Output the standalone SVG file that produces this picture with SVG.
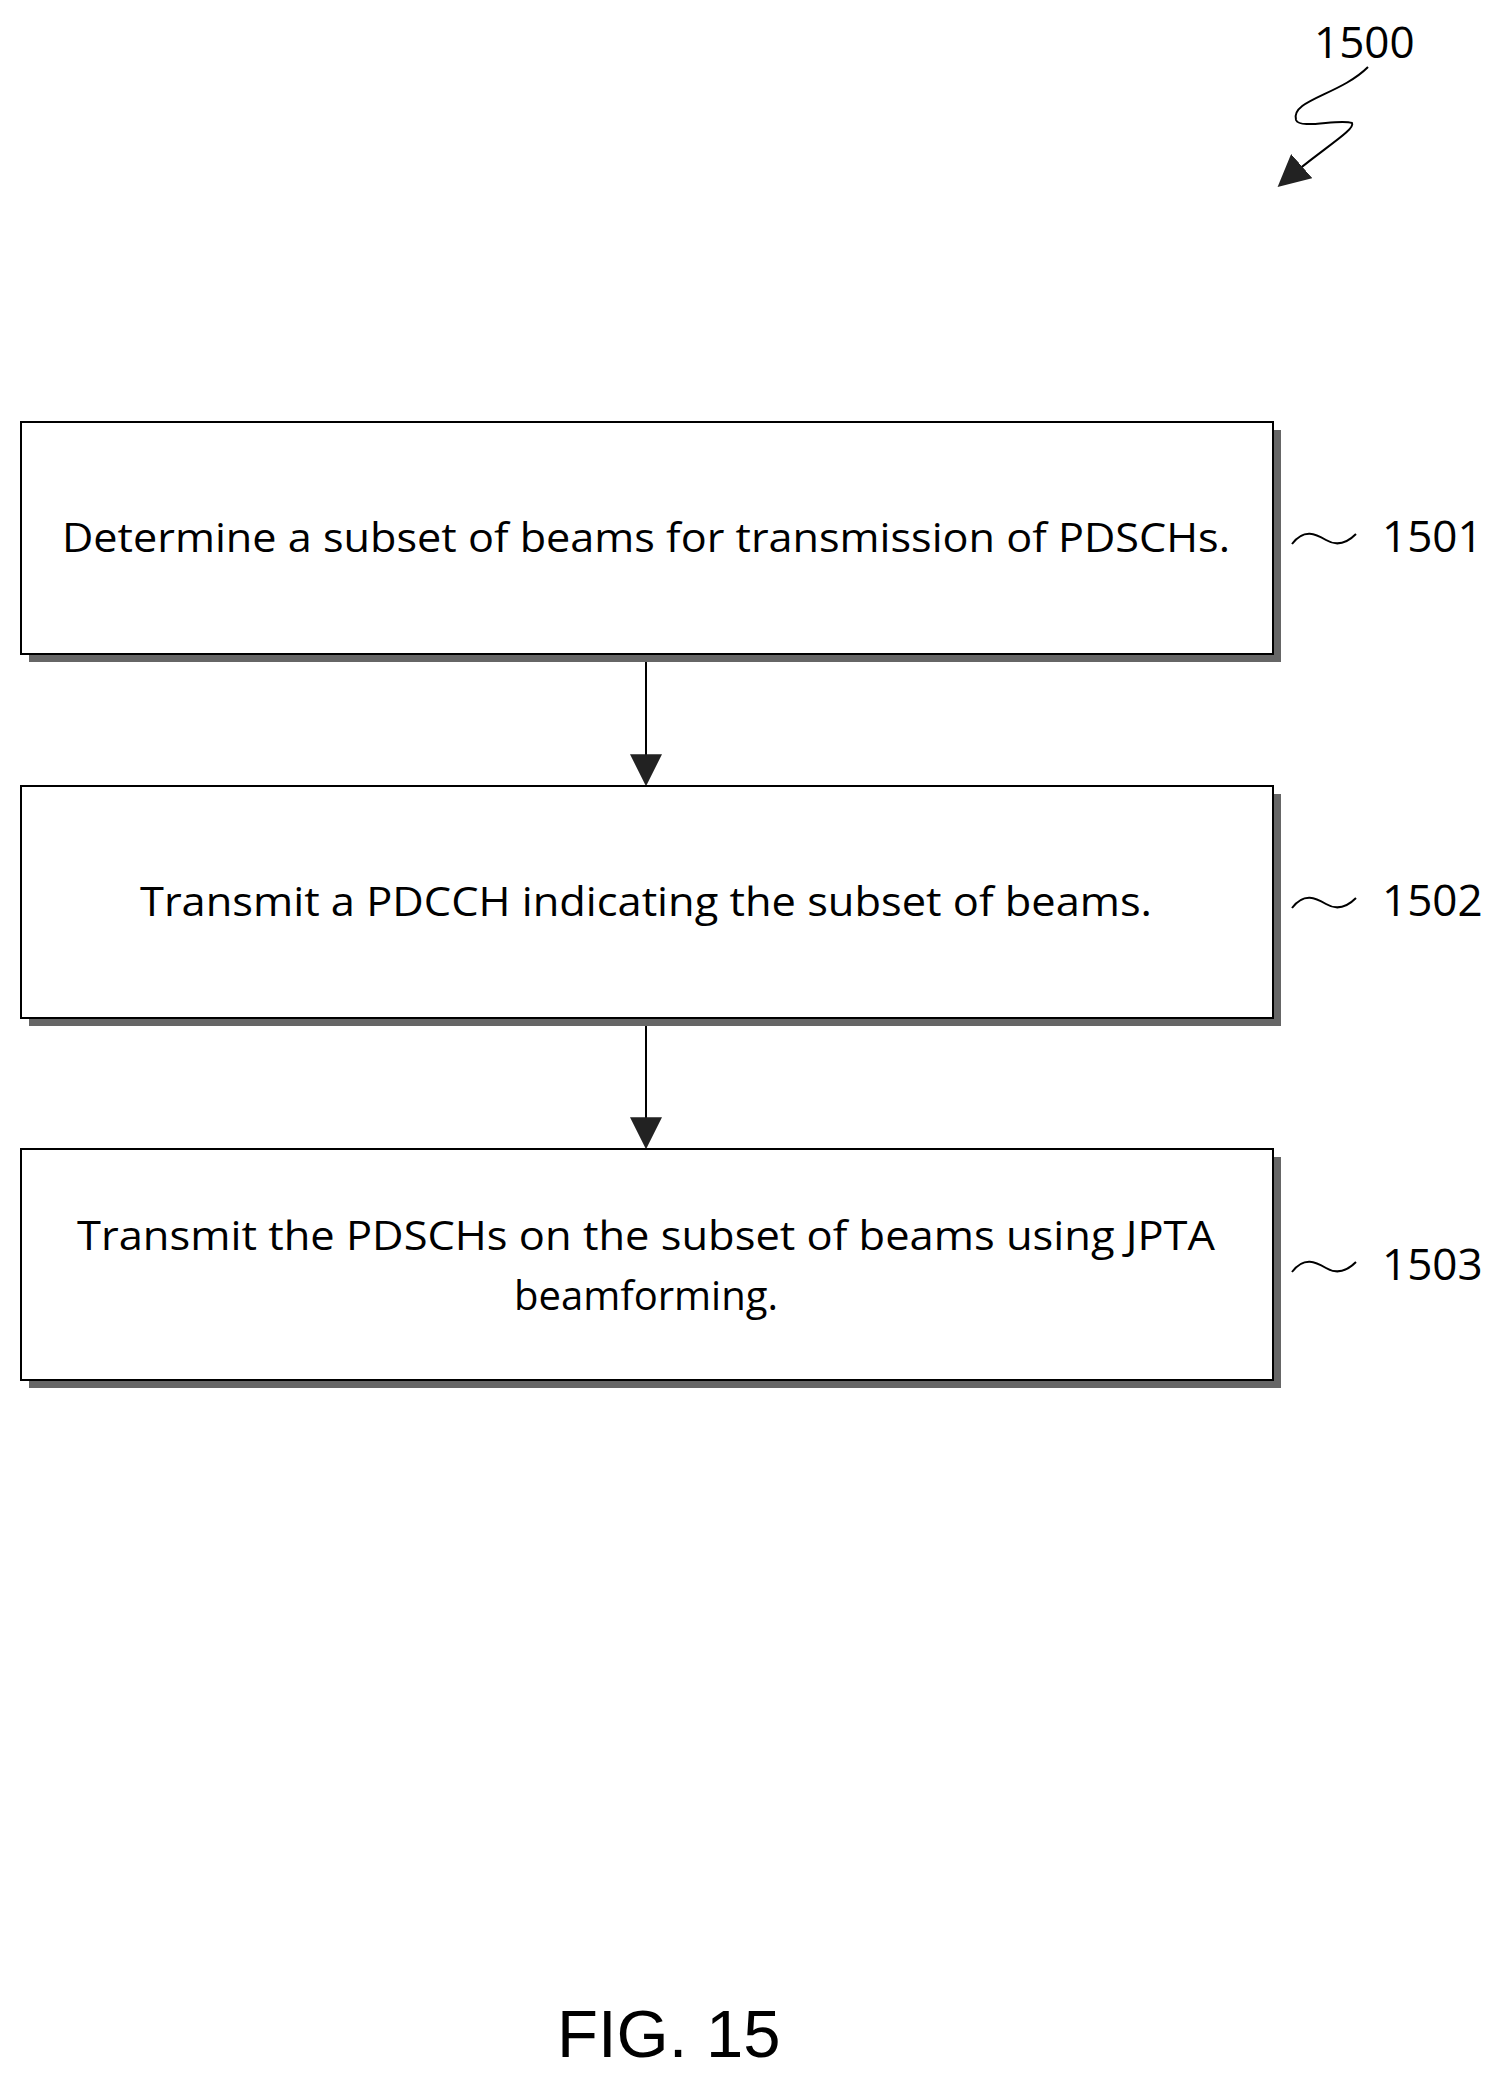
<svg xmlns="http://www.w3.org/2000/svg" width="1499" height="2078" viewBox="0 0 1499 2078">
<style>
.box{fill:#fff;stroke:#000;stroke-width:2}
.sh{fill:#666}
.t{font-family:"Open Sans","Liberation Sans",sans-serif;font-size:40px;text-anchor:middle;fill:#000}
.lb{font-family:"Open Sans","Liberation Sans",sans-serif;font-size:44px;fill:#000}
.ln{fill:none;stroke:#000;stroke-width:2}
</style>
<defs>
<marker id="ah2" viewBox="0 0 10 10" markerWidth="32" markerHeight="32" refX="9" refY="5" orient="auto" markerUnits="userSpaceOnUse"><path d="M0,0 L10,5 L0,10 Z" fill="#222"/></marker>
</defs>
<g id="ref1500">
<text x="1314" y="58" class="lb" font-size="52">1500</text>
<path class="ln" d="M1368,67 C1340,95 1290,100 1296,120 C1300,130 1340,118 1352,123 C1356,130 1320,150 1280,185" marker-end="url(#ah2)"/>
</g>
<g id="connectors">
<line class="ln" x1="646" y1="660" x2="646" y2="783" marker-end="url(#ah2)"/>
<line class="ln" x1="646" y1="1024" x2="646" y2="1146" marker-end="url(#ah2)"/>
</g>
<g id="n1501">
<rect class="sh" x="29" y="430" width="1252" height="232"/>
<rect class="box" x="21" y="422" width="1252" height="232"/>
<text class="t" x="646" y="552" textLength="1168" lengthAdjust="spacingAndGlyphs">Determine a subset of beams for transmission of PDSCHs.</text>
<path class="ln" d="M1292,544 C1304,528 1316,534 1326,540 C1336,546 1346,544 1356,534"/>
<text class="lb" x="1382" y="552">1501</text>
</g>
<g id="n1502">
<rect class="sh" x="29" y="794" width="1252" height="232"/>
<rect class="box" x="21" y="786" width="1252" height="232"/>
<text class="t" x="646" y="916" textLength="1012" lengthAdjust="spacingAndGlyphs">Transmit a PDCCH indicating the subset of beams.</text>
<path class="ln" d="M1292,908 C1304,892 1316,898 1326,904 C1336,910 1346,908 1356,898"/>
<text class="lb" x="1382" y="916">1502</text>
</g>
<g id="n1503">
<rect class="sh" x="29" y="1157" width="1252" height="231"/>
<rect class="box" x="21" y="1149" width="1252" height="231"/>
<text class="t" x="646" y="1250" textLength="1138" lengthAdjust="spacingAndGlyphs">Transmit the PDSCHs on the subset of beams using JPTA</text>
<text class="t" x="646" y="1310">beamforming.</text>
<path class="ln" d="M1292,1272 C1304,1256 1316,1262 1326,1268 C1336,1274 1346,1272 1356,1262"/>
<text class="lb" x="1382" y="1280">1503</text>
</g>
<text x="557" y="2057" font-family="Liberation Sans,sans-serif" font-size="67">FIG. 15</text>
</svg>
